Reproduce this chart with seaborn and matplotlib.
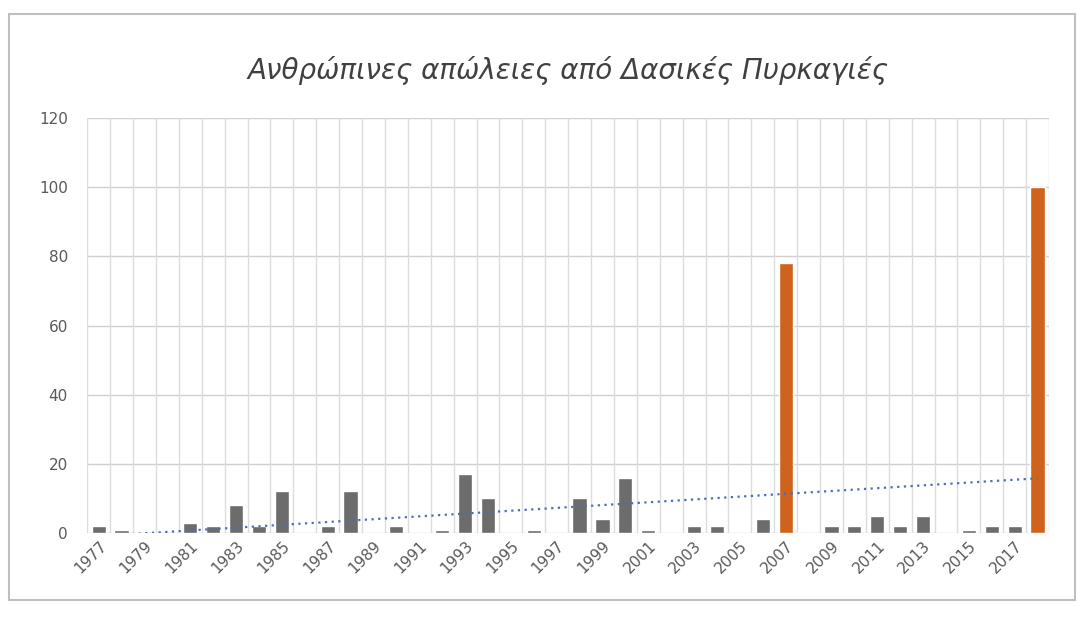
import numpy as np
import pandas as pd
import matplotlib.pyplot as plt
import seaborn as sns
from matplotlib.patches import Rectangle

# Data
years = list(range(1977, 2019))
deaths = [2, 1, 0, 0, 3, 2, 8, 2, 12, 0,
          2, 12, 0, 2, 0, 1, 17, 10, 0, 1,
          0, 10, 4, 16, 1, 0, 2, 2, 0, 4,
          78, 0, 2, 2, 5, 2, 5, 0, 1, 2,
          2, 100]
highlight_years = [2007, 2018]
title = 'Ανθρώπινες απώλειες από Δασικές Πυρκαγιές'

df = pd.DataFrame({'year': [str(y) for y in years], 'deaths': deaths})
colors = ['#cf621c' if y in highlight_years else '#6c6c6c' for y in years]

sns.set_theme(style='white')
plt.rcParams['font.family'] = ['DejaVu Sans']

fig = plt.figure(figsize=(10.77, 6.19), dpi=100)
ax = fig.add_axes([0.081, 0.139, 0.893, 0.670])

sns.barplot(data=df, x='year', y='deaths', hue='year', palette=colors,
            legend=False, width=0.62, saturation=1, ax=ax, zorder=3)

# linear trend line (dotted)
idx = np.arange(len(years))
slope, intercept = np.polyfit(idx, deaths, 1)
sns.lineplot(x=idx, y=slope * idx + intercept, ax=ax, color='#4a6fb5',
             linestyle=(0, (1, 2)), linewidth=1.6, zorder=4)

ax.set_ylim(0, 120)
ax.set_xlim(-0.5, len(years) - 0.5)
ax.set_yticks(range(0, 121, 20))
ax.set_xticks(idx[::2])
ax.set_xticklabels([str(y) for y in years[::2]], rotation=45, ha='right',
                   rotation_mode='anchor', fontsize=11, color='#595959')
ax.tick_params(axis='y', labelsize=11, labelcolor='#595959', length=0, pad=14)
ax.tick_params(axis='x', length=0, pad=4)
ax.set_xlabel('')
ax.set_ylabel('')

# gridlines: horizontal at ticks, vertical between categories
for yv in range(0, 121, 20):
    ax.axhline(yv, color='#d0d0d0', linewidth=1, zorder=1)
for xv in np.arange(-0.5, len(years), 1):
    ax.axvline(xv, color='#dcdcdc', linewidth=1, zorder=1)
for s in ax.spines.values():
    s.set_visible(False)

ax.set_title(title, fontsize=20, style='oblique', color='#404040', pad=28)

# outer chart frame
fig.patches.append(Rectangle((0.008, 0.03), 0.99, 0.948, transform=fig.transFigure,
                             fill=False, edgecolor='#bfbfbf', linewidth=1.5))

fig.savefig('out.png', dpi=100)
